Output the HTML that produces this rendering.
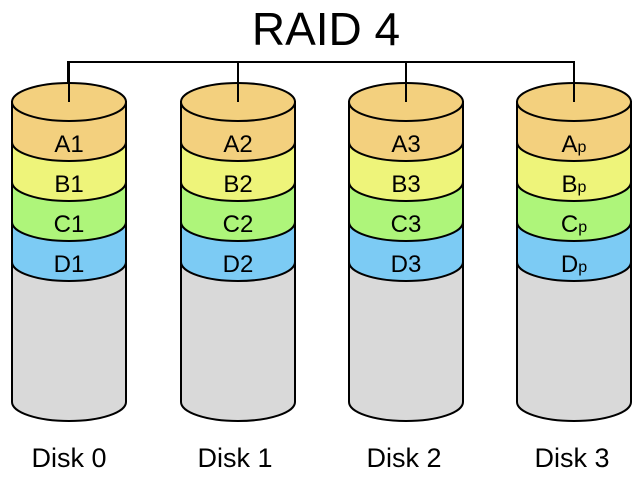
<!DOCTYPE html>
<html><head><meta charset="utf-8"><style>
html,body{margin:0;padding:0;background:#fff}
svg{display:block}
text{font-family:"Liberation Sans","Noto Sans CJK KR",sans-serif;fill:#000}
</style></head><body>
<svg width="644" height="484" viewBox="0 0 644 484" xmlns="http://www.w3.org/2000/svg">
<text x="326" y="45" font-size="46" text-anchor="middle">RAID 4</text>
<path d="M68 102 V62 H574 V102 M238 62 V102 M406 62 V102" fill="none" stroke="#000" stroke-width="2"/>
<defs>
<g id="cyl" stroke="#000" stroke-width="2">
<path d="M-57 102 V402 A57 19 0 0 0 57 402 V102 Z" fill="#d9d9d9"/>
<path d="M-57 222 V262 A57 19 0 0 0 57 262 V222 Z" fill="#7ccbf4"/>
<path d="M-57 182 V222 A57 19 0 0 0 57 222 V182 Z" fill="#aef57a"/>
<path d="M-57 142 V182 A57 19 0 0 0 57 182 V142 Z" fill="#eef47a"/>
<path d="M-57 102 V142 A57 19 0 0 0 57 142 V102 Z" fill="#f3d07e"/>
<ellipse cx="0" cy="102" rx="57" ry="19" fill="#f3d07e"/>
<line x1="0" y1="62" x2="0" y2="102"/>
</g>
</defs>
<use href="#cyl" x="69" y="0"/>
<use href="#cyl" x="238" y="0"/>
<use href="#cyl" x="406" y="0"/>
<use href="#cyl" x="574" y="0"/>
<g font-size="24" text-anchor="middle">
<text x="69" y="152">A1</text><text x="69" y="192">B1</text><text x="69" y="232">C1</text><text x="69" y="272">D1</text>
<text x="238" y="152">A2</text><text x="238" y="192">B2</text><text x="238" y="232">C2</text><text x="238" y="272">D2</text>
<text x="406" y="152">A3</text><text x="406" y="192">B3</text><text x="406" y="232">C3</text><text x="406" y="272">D3</text>
<text x="574" y="152">A<tspan font-size="16">p</tspan></text>
<text x="574" y="192">B<tspan font-size="16">p</tspan></text>
<text x="574" y="232">C<tspan font-size="16">p</tspan></text>
<text x="574" y="272">D<tspan font-size="16">p</tspan></text>
</g>
<g font-size="27" text-anchor="middle">
<text x="69" y="467">Disk 0</text>
<text x="235" y="467">Disk 1</text>
<text x="404" y="467">Disk 2</text>
<text x="572" y="467">Disk 3</text>
</g>
</svg>
</body></html>
